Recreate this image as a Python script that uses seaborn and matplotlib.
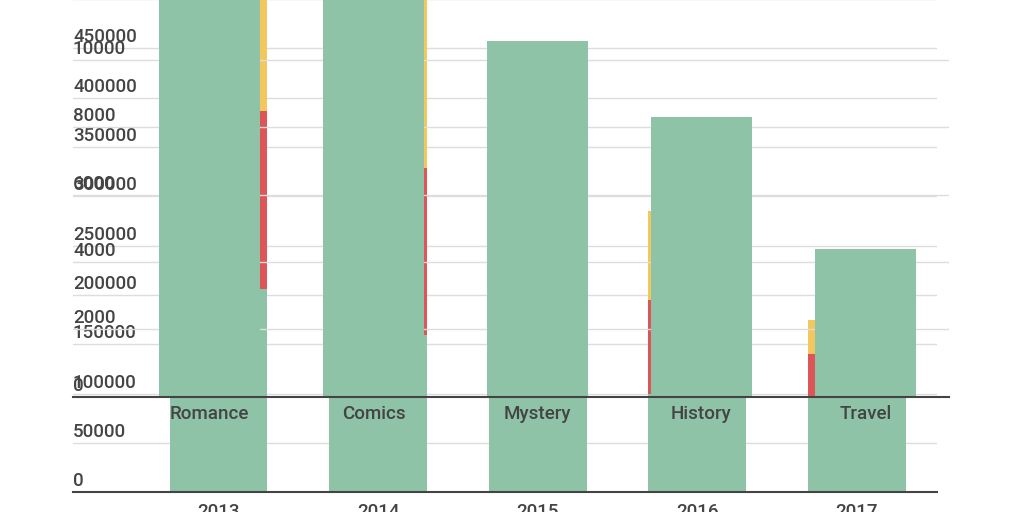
import matplotlib
matplotlib.use("Agg")
import matplotlib.pyplot as plt
import matplotlib.transforms as mtransforms
import seaborn as sns
import pandas as pd
import numpy as np

# ---- data ----
years = ["2013", "2014", "2015", "2016", "2017"]
base_vals = [206000, 159000, 150000, 100000, 97000]     # green segment
mid_vals = [180000, 170000, 130000, 95000, 43000]       # red segment
top_vals = [140000, 190000, 110000, 90000, 34500]       # yellow segment
year_ticks = [0, 50000, 100000, 150000, 200000, 250000, 300000, 350000, 400000, 450000, 500000]

genres = ["Romance", "Comics", "Mystery", "History", "Travel"]
genre_vals = [13000, 12500, 10550, 8300, 4380]
genre_ticks = [0, 2000, 4000, 6000, 8000, 10000]

GREEN = "#8EC3A7"
RED = "#DE5558"
YELLOW = "#F1C75E"
TEXT = "#444444"
GRID = "#DDDDDD"

sns.set_style("white")
plt.rcParams["font.family"] = ["Roboto", "DejaVu Sans"]

W, H = 1024, 512
fig = plt.figure(figsize=(W / 100, H / 100), dpi=100)

# Bottom (years) axes
l1, r1, b1, t1 = 73, 937, 492.3, -1.0
ax1 = fig.add_axes([l1 / W, (H - b1) / H, (r1 - l1) / W, (b1 - t1) / H])
# Top (genres) axes overlay
l2, r2, b2, t2 = 73, 949, 396.7, 0.0
ax2 = fig.add_axes([l2 / W, (H - b2) / H, (r2 - l2) / W, (b2 - t2) / H])
ax2.patch.set_alpha(0)

df1 = pd.DataFrame({"year": years, "base": base_vals, "mid": mid_vals, "top": top_vals})
df1["c_mid"] = df1["base"] + df1["mid"]
df1["c_top"] = df1["c_mid"] + df1["top"]

for col, color in [("c_top", YELLOW), ("c_mid", RED), ("base", GREEN)]:
    sns.barplot(data=df1, x="year", y=col, color=color, saturation=1, width=0.612,
                ax=ax1, errorbar=None, zorder=2, linewidth=0, edgecolor="none")

df2 = pd.DataFrame({"genre": genres, "value": genre_vals})
sns.barplot(data=df2, x="genre", y="value", color=GREEN, saturation=1, width=0.616,
            ax=ax2, errorbar=None, zorder=2, linewidth=0, edgecolor="none")

def style(ax, yticks, ylim, xlim, xpad):
    ax.set_xlim(*xlim)
    ax.set_ylim(*ylim)
    ax.set_yticks(yticks)
    ax.set_yticklabels([str(v) for v in yticks])
    ax.set_xlabel("")
    ax.set_ylabel("")
    ax.set_axisbelow(True)
    ax.grid(axis="y", color=GRID, linewidth=1.0)
    ax.grid(axis="x", visible=False)
    for s in ["left", "right", "top"]:
        ax.spines[s].set_visible(False)
    ax.spines["bottom"].set_color(TEXT)
    ax.spines["bottom"].set_linewidth(1.5)
    ax.spines["bottom"].set_zorder(5)
    ax.tick_params(axis="y", length=0, pad=0, labelsize=13.5, labelcolor=TEXT)
    ax.tick_params(axis="x", length=0, pad=xpad, labelsize=13.5, labelcolor=TEXT)
    off = mtransforms.ScaledTranslation(0, 6 / 100, fig.dpi_scale_trans)
    for lab in ax.get_yticklabels():
        lab.set_horizontalalignment("left")
        lab.set_verticalalignment("baseline")
        lab.set_transform(lab.get_transform() + off)
        lab.set_fontweight("medium")
    for lab in ax.get_xticklabels():
        lab.set_fontweight("medium")

style(ax1, year_ticks, (0, 500000), (-0.912, 4.502), 7.5)
style(ax2, genre_ticks, (0, 11782), (-0.834, 4.511), 6)

fig.savefig("out.png", dpi=100)
